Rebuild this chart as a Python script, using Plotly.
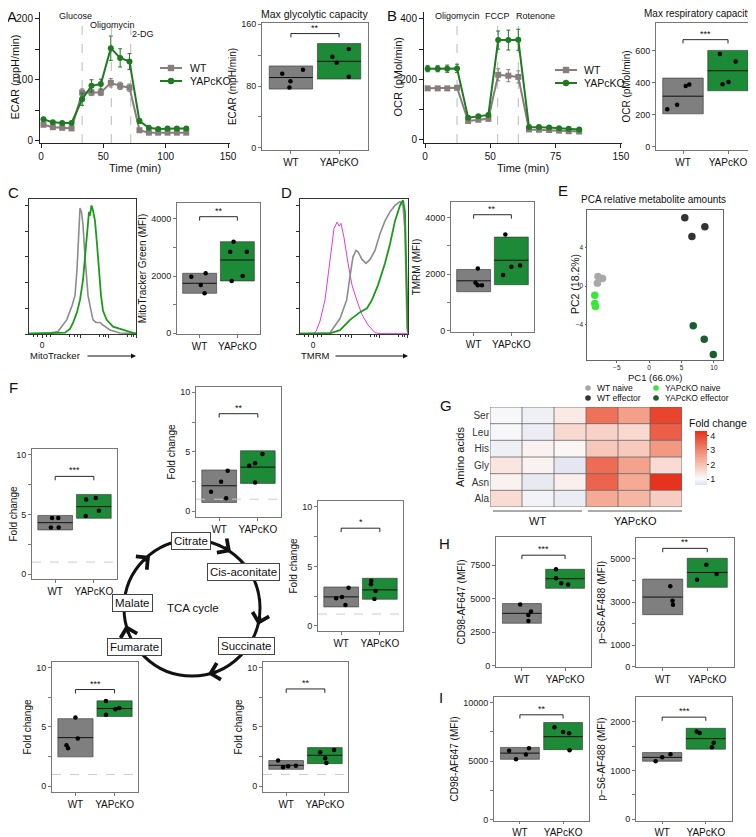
import plotly.graph_objects as go

W, H = 756, 837
OFF = 8  # the page body adds 8px; positions below are given in screen pixels
FONT = 'Liberation Sans, Arial, sans-serif'
GREY = '#7f7f7f'
GREEN = '#1c8a36'
LINE_WT = '#877d7d'
LINE_KO = '#1f7a22'

# ---------------- A: ECAR time course ----------------
ecar_t = [2, 9.5, 17, 24.5, 33, 40.5, 48, 56, 63.5, 71, 79, 86.5, 94, 101.5, 109, 116.5]
ecar_wt = [26, 22, 21, 20, 79, 79, 79, 95, 90, 87, 17, 13, 13, 13, 13, 13]
ecar_wt_err = [3, 2, 2, 2, 6, 5, 5, 7, 6, 6, 3, 2, 2, 2, 2, 2]
ecar_ko = [35, 30, 29, 29, 68, 90, 93, 152, 136, 130, 32, 21, 19, 20, 20, 20]
ecar_ko_err = [3, 2, 2, 2, 10, 10, 8, 20, 15, 13, 4, 2, 2, 2, 2, 2]
ecar_inject_t = [33, 56.4, 72]
ecar_inject = ['Glucose', 'Oligomycin', '2-DG']

# A right: max glycolytic capacity (low, median, high)
glyco_wt_box = [76, 91, 106]
glyco_wt_pts = [96, 101, 86, 78]
glyco_wt_jit = [-0.18, 0.25, -0.01, -0.03]
glyco_ko_box = [89, 112, 135]
glyco_ko_pts = [118, 128, 110, 92]
glyco_ko_jit = [-0.14, 0.2, -0.05, 0.2]

# ---------------- B: OCR time course ----------------
ocr_t = [2, 9.7, 17, 24.5, 33, 40.8, 48.5, 56, 63.8, 71.4, 79.6, 87.2, 95, 102.6, 110, 118]
ocr_wt = [170, 170, 170, 172, 62, 66, 69, 215, 212, 208, 34, 33, 32, 30, 28, 27]
ocr_wt_err = [5, 5, 5, 5, 4, 4, 4, 20, 20, 20, 3, 3, 3, 3, 3, 3]
ocr_ko = [235, 235, 235, 236, 73, 78, 82, 330, 330, 331, 42, 42, 40, 38, 36, 34]
ocr_ko_err = [10, 10, 12, 14, 5, 5, 5, 30, 33, 35, 4, 4, 4, 4, 4, 4]
ocr_inject_t = [24.5, 55.6, 71.4]
ocr_inject = ['Oligomycin', 'FCCP', 'Rotenone']

resp_wt_box = [204, 314, 427]
resp_wt_pts = [233, 260, 377, 387]
resp_wt_jit = [-0.35, -0.13, 0.06, 0.14]
resp_ko_box = [348, 473, 600]
resp_ko_pts = [577, 531, 389, 402]
resp_ko_jit = [-0.18, 0.17, -0.12, 0.01]

# ---------------- C: MitoTracker ----------------
mt_grey_x = [0, 21, 29, 37.7, 43, 46, 48, 49.5, 51, 52.5, 54, 56, 57.5, 59, 61, 64, 67, 71, 74, 81, 91, 107]
mt_grey_y = [0.3, 0.8, 2, 11, 22, 30, 50, 75, 98, 95, 85, 60, 42, 30, 22, 11, 9, 9, 7, 3, 0.8, 0.3]
mt_green_x = [0, 33, 36, 41, 44, 48, 51, 54, 56, 58, 60, 61, 62.5, 64, 66, 68, 70, 72, 74, 77.7, 84, 94, 104, 107]
mt_green_y = [0.3, 0.5, 1, 4, 8.6, 17, 26.5, 42, 60, 80, 95, 92, 100, 96, 88, 70, 50, 30, 18, 11, 5.7, 3, 0.8, 0.5]

mtg_wt_box = [1393, 1744, 2095]
mtg_wt_pts = [2095, 1975, 1684, 1393]
mtg_wt_jit = [0.16, -0.22, 0.03, 0.13]
mtg_ko_box = [1825, 2561, 3204]
mtg_ko_pts = [3204, 2853, 2850, 2000, 1825]
mtg_ko_jit = [-0.1, -0.19, 0.25, 0.14, -0.15]

# ---------------- D: TMRM ----------------
tm_mag_x = [0, 13, 16, 20, 25, 30, 34, 37, 39, 41, 44, 48, 52, 56.7, 62, 68, 75, 80, 108]
tm_mag_y = [0.3, 0.5, 2, 10, 26.5, 60, 82, 87, 84, 86, 75, 55, 38, 26.5, 15, 7, 1, 0.3, 0.2]
tm_grey_x = [0, 20, 30, 40, 46.7, 50, 53, 56, 58, 62, 66, 70, 75, 80, 85, 90, 95, 100, 103, 105, 106, 107, 108]
tm_grey_y = [0.3, 0.5, 1, 12, 26.5, 45, 60, 65, 64, 58, 55, 58, 65, 78, 88, 95, 100, 103, 100, 80, 40, 5, 0.3]
tm_green_x = [0, 30, 40, 50, 60, 67, 72, 78, 85, 90, 95, 100, 103, 105, 106, 107, 108]
tm_green_y = [0.3, 0.5, 3, 11, 17, 20, 26.5, 38, 55, 70, 88, 100, 104, 95, 60, 15, 2]

tmrm_wt_box = [1378, 1764, 2165]
tmrm_wt_pts = [2200, 1695, 1603, 1603]
tmrm_wt_jit = [0.11, 0.05, 0.11, 0.22]
tmrm_ko_box = [1624, 2491, 3310]
tmrm_ko_pts = [3404, 1965, 2257, 2305]
tmrm_ko_jit = [-0.16, -0.22, 0.0, 0.23]

# ---------------- E: PCA ----------------
pca_groups = ['WT naive', 'YAPcKO naive', 'WT effector', 'YAPcKO effector']
pca_colors = ['#a8a8a8', '#39e639', '#333333', '#1a5e2e']
pca_pc1 = [[-7.9, -7.2, -8.0], [-8.4, -8.4, -8.3], [5.5, 6.6, 8.6], [6.8, 8.5, 9.9]]
pca_pc2 = [[1.0, 0.8, 0.3], [-0.95, -1.8, -2.1], [7.1, 5.15, 6.15], [-4.1, -5.5, -7.1]]

# ---------------- F: TCA metabolites (fold change) ----------------
f1_wt_box = [3.7, 4.31, 4.92]
f1_wt_pts = [4.7, 4.7, 3.9, 3.9]
f1_wt_jit = [-0.08, 0.08, -0.11, 0.09]
f1_ko_box = [4.68, 5.66, 6.68]
f1_ko_pts = [6.26, 6.38, 5.32, 4.87]
f1_ko_jit = [-0.2, 0.05, 0.13, -0.21]

f2_wt_box = [0.73, 2.13, 3.46]
f2_wt_pts = [1.63, 2.47, 3.4, 1.07]
f2_wt_jit = [-0.21, 0.05, 0.22, 0.18]
f2_ko_box = [2.33, 3.7, 5.08]
f2_ko_pts = [4.8, 3.82, 4.02, 2.4]
f2_ko_jit = [0.12, -0.22, -0.07, -0.07]

f3_wt_box = [1.6, 2.44, 3.27]
f3_wt_pts = [2.33, 2.44, 1.77, 3.2]
f3_wt_jit = [-0.13, 0.02, 0.11, 0.19]
f3_ko_box = [2.24, 3.03, 4.0]
f3_ko_pts = [3.8, 3.49, 2.93, 2.26]
f3_ko_jit = [-0.22, -0.23, -0.11, -0.14]

f4_wt_box = [2.48, 4.1, 5.7]
f4_wt_pts = [5.8, 4.02, 3.45, 3.2]
f4_wt_jit = [0.0, 0.06, -0.23, -0.19]
f4_ko_box = [5.88, 6.55, 7.2]
f4_ko_pts = [7.18, 6.03, 6.5, 6.6]
f4_ko_jit = [-0.22, -0.22, 0.02, 0.12]

f5_wt_box = [1.43, 1.77, 2.17]
f5_wt_pts = [2.17, 1.6, 1.68, 1.74]
f5_wt_jit = [-0.21, -0.08, 0.05, 0.25]
f5_ko_box = [1.91, 2.61, 3.26]
f5_ko_pts = [2.86, 3.06, 2.36, 1.97]
f5_ko_jit = [-0.12, 0.24, 0.01, 0.04]

tca_labels = ['Citrate', 'Cis-aconitate', 'Succinate', 'Fumarate', 'Malate']

# ---------------- G: amino acid heatmap ----------------
aa_rows = ['Ser', 'Leu', 'His', 'Gly', 'Asn', 'Ala']
aa_fold = [
    [0.95, 0.85, 1.3, 3.3, 2.6, 4.0],
    [0.95, 0.8, 1.6, 1.7, 1.6, 3.6],
    [0.85, 1.15, 1.1, 1.9, 1.85, 2.7],
    [1.35, 1.15, 0.7, 3.4, 2.55, 1.55],
    [1.15, 0.75, 1.2, 3.5, 2.4, 4.25],
    [1.55, 0.9, 0.8, 2.4, 2.2, 1.8],
]

# ---------------- H / I: flow MFI ----------------
h1_wt_box = [3160, 3900, 4627]
h1_wt_pts = [4550, 4030, 3780, 3330]
h1_wt_jit = [-0.04, 0.21, 0.15, 0.15]
h1_ko_box = [5760, 6480, 7180]
h1_ko_pts = [7180, 6510, 6140, 6040]
h1_ko_jit = [-0.21, -0.21, -0.09, 0.07]

h2_wt_box = [2414, 3230, 4065]
h2_wt_pts = [3730, 3060, 2875]
h2_wt_jit = [0.17, 0.22, 0.23]
h2_ko_box = [3680, 4370, 5030]
h2_ko_pts = [4730, 4030, 4305]
h2_ko_jit = [-0.02, -0.23, 0.21]

i1_wt_box = [5164, 5690, 6180]
i1_wt_pts = [5900, 5164, 5574, 6100]
i1_wt_jit = [-0.25, -0.09, 0.14, 0.21]
i1_ko_box = [5990, 7100, 8310]
i1_ko_pts = [7900, 7490, 7400, 5930]
i1_ko_jit = [-0.2, 0.0, 0.14, 0.15]

i2_wt_box = [1192, 1271, 1370]
i2_wt_pts = [1192, 1271, 1337]
i2_wt_jit = [-0.15, 0.0, 0.19]
i2_ko_box = [1440, 1657, 1870]
i2_ko_pts = [1805, 1772, 1574, 1481]
i2_ko_jit = [-0.21, -0.14, 0.18, 0.14]


fig = go.Figure()
ann = []
shapes = []
n_ax = [0]


def fx(x):
    return (x - OFF) / W


def fy(y):
    return 1 - (y - OFF) / H


def panel(x0, x1, y0, y1, xa, ya):
    # place an x/y axis pair at screen pixel box (x0..x1, y0..y1 from top)
    n_ax[0] += 1
    s = '' if n_ax[0] == 1 else str(n_ax[0])
    xa = dict(xa, domain=[fx(x0), fx(x1)], anchor='y' + s, automargin=False)
    ya = dict(ya, domain=[fy(y1), fy(y0)], anchor='x' + s, automargin=False)
    fig.update_layout({'xaxis' + s: xa, 'yaxis' + s: ya})
    return 'x' + s, 'y' + s


def frame_ax(color='#777', **kw):
    d = dict(showline=True, mirror=True, linecolor=color, linewidth=1, ticks='outside',
             ticklen=3, tickcolor=color, showgrid=False, zeroline=False,
             tickfont=dict(size=9, color='#222'))
    d.update(kw)
    return d


def ytitle(text, size=10, standoff=3):
    return dict(text=text, font=dict(size=size, color='#111'), standoff=standoff)


def txt(x, y, text, size=10, xanchor='center', yanchor='middle', **kw):
    ann.append(dict(x=fx(x), y=fy(y), xref='paper', yref='paper', text=text, showarrow=False,
                    xanchor=xanchor, yanchor=yanchor, font=dict(size=size, color='#111'), **kw))


def key(cx, cy, color, symbol='circle', r=3):
    shapes.append(dict(type='rect' if symbol == 'square' else 'circle', xref='paper', yref='paper',
                       x0=fx(cx - r), x1=fx(cx + r), y0=fy(cy + r), y1=fy(cy - r),
                       fillcolor=color, line=dict(width=0)))


def line_key(xa, xb, y, color, symbol, label, tx):
    shapes.append(dict(type='line', xref='paper', yref='paper', x0=fx(xa), x1=fx(xb), y0=fy(y),
                       y1=fy(y), line=dict(color=color, width=2)))
    key((xa + xb) / 2, y, color, symbol, 3.2)
    txt(tx, y, label, 10.5, xanchor='left')


def box_panel(frame, yrange, ticks, labels, ylab, wt, ko, brk, stars, dashed=False, ticklen=3):
    x0, x1, y0, y1 = frame
    xr, yr = panel(x0, x1, y0, y1,
                   frame_ax(range=[0.4, 2.6], tickvals=[1, 2], ticktext=['WT', 'YAPcKO'], ticklen=ticklen,
                            tickfont=dict(size=10, color='#111')),
                   frame_ax(range=yrange, tickvals=ticks, ticktext=labels, title=ytitle(ylab, 10, 2)))
    common = dict(xaxis=xr, yaxis=yr, showlegend=False, hoverinfo='skip')
    if dashed:
        fig.add_trace(go.Scatter(x=[0.4, 2.6], y=[1, 1], mode='lines',
                                 line=dict(color='#cccccc', width=1, dash='dash'), **common))
    lo = [wt[0][0], ko[0][0]]
    mid = [wt[0][1], ko[0][1]]
    hi = [wt[0][2], ko[0][2]]
    fig.add_trace(go.Bar(x=[1, 2], y=[hi[0] - lo[0], hi[1] - lo[1]], base=lo, width=0.9,
                         marker=dict(color=[GREY, GREEN], line=dict(color='#333', width=0.6)), **common))
    fig.add_trace(go.Scatter(x=[0.55, 1.45, None, 1.55, 2.45], y=[mid[0], mid[0], None, mid[1], mid[1]],
                             mode='lines', line=dict(color='#111', width=1), **common))
    fig.add_trace(go.Scatter(x=[1 + j for j in wt[2]] + [2 + j for j in ko[2]], y=wt[1] + ko[1],
                             mode='markers', marker=dict(color='black', size=4.5), **common))
    d = (yrange[1] - yrange[0]) * 0.03
    fig.add_trace(go.Scatter(x=[1, 1, 2, 2], y=[brk - d, brk, brk, brk - d], mode='lines',
                             line=dict(color='#111', width=0.9), **common))
    ann.append(dict(x=1.5, y=brk, xref=xr, yref=yr, text=stars, showarrow=False, yanchor='bottom',
                    font=dict(size=9, color='#111'), yshift=-1))
    return xr, yr


def time_panel(frame, xrange, yrange, xt, xl, yt, yminor, ylab, ylab_x, t, wt, wte, ko, kote,
               inj_t, inj, inj_pos):
    x0, x1, y0, y1 = frame
    base = dict(showline=True, linecolor='#222', linewidth=1, ticks='outside', ticklen=4, tickcolor='#222',
                showgrid=False, zeroline=False, tickfont=dict(size=10, color='#111'))
    xr, yr = panel(x0, x1, y0, y1,
                   dict(base, range=xrange, tickvals=xt, ticktext=xl,
                        title=dict(text='Time (min)', font=dict(size=11, color='#111'), standoff=3)),
                   dict(base, range=yrange, tickvals=yt,
                        minor=dict(tickvals=yminor, ticks='outside', ticklen=4, tickcolor='#222')))
    txt(ylab_x, (y0 + y1) / 2, ylab, 11, textangle=-90)
    for ti in inj_t:
        shapes.append(dict(type='line', xref=xr, yref=yr + ' domain', x0=ti, x1=ti, y0=0, y1=0.97,
                           line=dict(color='#bbbbbb', width=1, dash='dash'), layer='below'))
    for ti, name, (dx, yy, xa) in zip(inj_t, inj, inj_pos):
        ann.append(dict(x=ti, y=fy(yy), xref=xr, yref='paper', text=name, showarrow=False,
                        xanchor=xa, yanchor='middle', xshift=dx, font=dict(size=9, color='#111')))
    for y, e, col, sym in [(wt, wte, LINE_WT, 'square'), (ko, kote, LINE_KO, 'circle')]:
        fig.add_trace(go.Scatter(x=t, y=y, mode='lines+markers', showlegend=False,
                                 line=dict(color=col, width=2), marker=dict(symbol=sym, size=6, color=col),
                                 error_y=dict(type='data', array=e, color=col, thickness=1, width=2),
                                 xaxis=xr, yaxis=yr, hoverinfo='skip'))


# ---- A
time_panel((40, 230, 12, 143), [-0.8, 151.6], [-4, 211.5], [0, 50, 100, 150], ['0', '50', '100', '150'],
           [0, 100, 200], [50, 150], 'ECAR (mpH/min)', 14, ecar_t, ecar_wt, ecar_wt_err, ecar_ko, ecar_ko_err,
           ecar_inject_t, ecar_inject, [(-7, 16, 'center'), (1, 25, 'center'), (-1, 34, 'left')])
line_key(160, 182, 68, LINE_WT, 'square', 'WT', 188)
line_key(160, 182, 81, LINE_KO, 'circle', 'YAPcKO', 188)
box_panel((262, 368, 23, 150), [-3, 161.7], [0, 40, 80, 120, 160], ['0', '', '80', '', '160'], 'ECAR (mpH/min)',
          (glyco_wt_box, glyco_wt_pts, glyco_wt_jit), (glyco_ko_box, glyco_ko_pts, glyco_ko_jit), 148, '**')
txt(315, 14, 'Max glycolytic capacity', 10.5)

# ---- B
time_panel((424, 622, 12, 143), [-0.8, 150.8], [-11, 423], [0, 50, 100, 150], ['0', '50', '75', '150'],
           [0, 200, 400], [100, 300], 'OCR (pMol/min)', 397, ocr_t, ocr_wt, ocr_wt_err, ocr_ko, ocr_ko_err,
           ocr_inject_t, ocr_inject, [(0, 16, 'center'), (0, 16, 'center'), (-4, 16, 'left')])
line_key(555, 577, 70, LINE_WT, 'square', 'WT', 582)
line_key(555, 577, 83, LINE_KO, 'circle', 'YAPcKO', 582)
box_panel((656, 755, 23, 150), [-22, 771], [0, 200, 400, 600], ['0', '200', '400', '600'], 'OCR (pMol/min)',
          (resp_wt_box, resp_wt_pts, resp_wt_jit), (resp_ko_box, resp_ko_pts, resp_ko_jit), 667, '***')
txt(698, 14, 'Max respiratory capacity', 10)


# ---- C / D flow histograms
def hist_panel(frame, xmax, curves, zero_at, label, label_end):
    x0, x1, y0, y1 = frame
    xr, yr = panel(x0, x1, y0, y1,
                   frame_ax('#333', range=[0, xmax], tickvals=[zero_at, 51, 79, 107], ticktext=['0', '', '', ''],
                            minor=dict(tickvals=[4, 8, 17, 21, 40, 45, 48, 70, 74, 76, 98, 102, 104],
                                       ticks='outside', ticklen=2, tickcolor='#333'),
                            tickfont=dict(size=8.5, color='#111')),
                   frame_ax('#333', range=[0, 105], tickvals=[0, 20, 40, 60, 80, 100], showticklabels=False))
    for cx, cy, col, w in curves:
        fig.add_trace(go.Scatter(x=cx, y=cy, mode='lines', line=dict(color=col, width=w),
                                 xaxis=xr, yaxis=yr, showlegend=False, hoverinfo='skip'))
    txt(x0 - 1, 356, label, 9.5, xanchor='left')
    ann.append(dict(x=fx(x1), y=fy(356), xref='paper', yref='paper', ax=label_end - x1, ay=0,
                    showarrow=True, arrowhead=2, arrowsize=1, arrowwidth=1, arrowcolor='#111', text=''))


hist_panel((29, 136, 199, 334), 107,
           [(mt_grey_x, mt_grey_y, '#8c8c8c', 1.6), (mt_green_x, mt_green_y, '#1b9a1b', 1.8)],
           13, 'MitoTracker', 86)
box_panel((177, 260, 203, 334), [-35, 4561], [0, 1000, 2000, 3000, 4000], ['0', '', '2000', '', '4000'],
          'MitoTracker Green (MFI)', (mtg_wt_box, mtg_wt_pts, mtg_wt_jit), (mtg_ko_box, mtg_ko_pts, mtg_ko_jit),
          4080, '**')

hist_panel((300, 408, 199, 334), 108,
           [(tm_mag_x, tm_mag_y, '#e03ae0', 1), (tm_grey_x, tm_grey_y, '#8c8c8c', 1.6),
            (tm_green_x, tm_green_y, '#1b9a1b', 1.8)],
           13, 'TMRM', 334)
box_panel((451, 534, 202, 332), [-46, 4550], [0, 1000, 2000, 3000, 4000], ['0', '', '2000', '', '4000'],
          'TMRM (MFI)', (tmrm_wt_box, tmrm_wt_pts, tmrm_wt_jit), (tmrm_ko_box, tmrm_ko_pts, tmrm_ko_jit),
          4100, '**')

# ---- E PCA
xr, yr = panel(587, 723, 210, 360,
               frame_ax('#666', range=[-9.6, 11.4], tickvals=[-5, 0, 5, 10], ticklen=1.5,
                        tickfont=dict(size=6.5, color='#222')),
               frame_ax('#666', range=[-7.66, 7.9], tickvals=[-4, 0, 4, 8], ticklen=1.5,
                        tickfont=dict(size=6.5, color='#222')))
for i, (g, c) in enumerate(zip(pca_groups, pca_colors)):
    fig.add_trace(go.Scatter(x=pca_pc1[i], y=pca_pc2[i], mode='markers', showlegend=False,
                             marker=dict(color=c, size=7.5), xaxis=xr, yaxis=yr, hoverinfo='skip'))
    kx, ky = [(588, 388), (656, 388), (588, 398), (656, 398)][i]
    key(kx, ky, c, r=2.8)
    txt(kx + 7, ky, g, 8.5, xanchor='left')
txt(653, 199, 'PCA relative metabolite amounts', 10)
txt(655, 377, 'PC1 (66.0%)', 9.5)
txt(575, 284, 'PC2 (18.2%)', 10.5, textangle=-90)

# ---- G heatmap
xr, yr = panel(490, 682, 407, 507,
               dict(range=[-0.5, 5.5], showticklabels=False, showgrid=False, zeroline=False, ticks=''),
               dict(range=[5.5, -0.5], tickvals=list(range(6)), ticktext=aa_rows, showgrid=False, zeroline=False,
                    ticks='', tickfont=dict(size=10, color='#333'), title=ytitle('Amino acids', 11, 4)))
fig.add_trace(go.Heatmap(z=aa_fold, x=list(range(6)), y=list(range(6)), zmin=0.6, zmax=4.3,
                         colorscale=[[0, '#dde1ee'], [0.11, '#fbfafa'], [0.55, '#f49d85'], [1, '#e6301a']],
                         colorbar=dict(x=fx(695), xanchor='left', y=fy(431), yanchor='top', len=54 / H,
                                       lenmode='fraction', thickness=12, tickvals=[1, 2, 3, 4],
                                       tickfont=dict(size=9, color='#222'), outlinewidth=0, ticks='outside',
                                       ticklen=2, xpad=0, ypad=0),
                         xaxis=xr, yaxis=yr, hoverinfo='skip'))
for k in range(7):
    shapes.append(dict(type='line', xref=xr, yref=yr, x0=k - 0.5, x1=k - 0.5, y0=-0.5, y1=5.5,
                       line=dict(color='#666', width=0.8)))
    shapes.append(dict(type='line', xref=xr, yref=yr, x0=-0.5, x1=5.5, y0=k - 0.5, y1=k - 0.5,
                       line=dict(color='#666', width=0.8)))
txt(687, 423, 'Fold change', 10.5, xanchor='left')
for a, b, lab in [(493, 582, 'WT'), (588, 682, 'YAPcKO')]:
    shapes.append(dict(type='line', xref='paper', yref='paper', x0=fx(a), x1=fx(b), y0=fy(511),
                       y1=fy(511), line=dict(color='#555', width=1)))
    txt((a + b) / 2, 521, lab, 11)

# ---- F TCA boxes
fticks = [0, 2.5, 5, 7.5, 10]
flabels = ['0', '', '5', '', '10']
box_panel((32, 117, 449, 579), [-0.42, 10.5], fticks, flabels, 'Fold change',
          (f1_wt_box, f1_wt_pts, f1_wt_jit), (f1_ko_box, f1_ko_pts, f1_ko_jit), 8.2, '***', True)
box_panel((196, 281, 387, 517), [-0.5, 10.45], fticks, flabels, 'Fold change',
          (f2_wt_box, f2_wt_pts, f2_wt_jit), (f2_ko_box, f2_ko_pts, f2_ko_jit), 8.2, '**', True)
box_panel((318, 403, 501, 631), [-0.42, 10.48], fticks, flabels, 'Fold change',
          (f3_wt_box, f3_wt_pts, f3_wt_jit), (f3_ko_box, f3_ko_pts, f3_ko_jit), 8.2, '*', True)
box_panel((52, 138, 662, 792), [-0.48, 10.47], fticks, flabels, 'Fold change',
          (f4_wt_box, f4_wt_pts, f4_wt_jit), (f4_ko_box, f4_ko_pts, f4_ko_jit), 8.15, '***', True)
box_panel((263, 348, 662, 792), [-0.48, 10.47], fticks, flabels, 'Fold change',
          (f5_wt_box, f5_wt_pts, f5_wt_jit), (f5_ko_box, f5_ko_pts, f5_ko_jit), 8.2, '**', True)

# TCA cycle diagram
cx, cy, r = 192, 608, 68
shapes.append(dict(type='circle', xref='paper', yref='paper', x0=fx(cx - r), x1=fx(cx + r),
                   y0=fy(cy + r), y1=fy(cy - r), line=dict(color='#111', width=3)))
for (px, py, tx, ty) in [(150, 556, 0.754, -0.618), (231, 552, 0.819, 0.574), (258, 625, -0.249, 0.969),
                         (208, 674, -0.970, 0.242), (126, 625, -0.252, -0.968)]:
    ann.append(dict(x=fx(px), y=fy(py), xref='paper', yref='paper', ax=-tx * 10, ay=-ty * 10, text='',
                    showarrow=True, arrowhead=4, arrowsize=1.1, arrowwidth=3, arrowcolor='#111'))
for lab, (lx, ly) in zip(tca_labels, [(191, 541), (243, 572), (246, 646), (134, 647), (132, 603)]):
    txt(lx, ly, lab, 11.5, bgcolor='white', bordercolor='#444', borderwidth=1, borderpad=2)
txt(193, 608, 'TCA cycle', 11.5)

# ---- H / I
box_panel((496, 591, 537, 667), [-97, 9585], [0, 2500, 5000, 7500], ['0', '2500', '5000', '7500'],
          'CD98-AF647 (MFI)', (h1_wt_box, h1_wt_pts, h1_wt_jit), (h1_ko_box, h1_ko_pts, h1_ko_jit), 8230, '***')
box_panel((636, 734, 538, 667), [-14, 5970], [0, 1000, 2000, 3000, 4000, 5000],
          ['0', '1000', '', '3000', '', '5000'], 'p\u2212S6-AF488 (MFI)',
          (h2_wt_box, h2_wt_pts, h2_wt_jit), (h2_ko_box, h2_ko_pts, h2_ko_jit), 5490, '**')
box_panel((494, 589, 697, 821), [-115, 10493], [0, 2500, 5000, 7500, 10000], ['0', '', '5000', '', '10000'],
          'CD98-AF647 (MFI)', (i1_wt_box, i1_wt_pts, i1_wt_jit), (i1_ko_box, i1_ko_pts, i1_ko_jit), 8970, '**',
          ticklen=2)
box_panel((636, 732, 697, 821), [-40, 2515], [0, 500, 1000, 1500, 2000], ['0', '', '1000', '', '2000'],
          'p\u2212S6-AF488 (MFI)', (i2_wt_box, i2_wt_pts, i2_wt_jit), (i2_ko_box, i2_ko_pts, i2_ko_jit),
          2100, '***', ticklen=2)

# panel letters (screen edge limits the top-left ones)
for lab, (lx, ly) in zip('ABCDEFGHI', [(12, 16), (392, 15), (13, 192), (286, 192), (563, 190), (13, 388),
                                       (446, 405), (444, 543), (441, 697)]):
    txt(lx, ly, lab, 15)

fig.update_layout(
    width=W, height=H, margin=dict(l=0, r=0, t=0, b=0),
    paper_bgcolor='white', plot_bgcolor='white',
    font=dict(family=FONT, size=10, color='#111'),
    annotations=ann, shapes=shapes, showlegend=False,
)

fig.write_html('out.html')
